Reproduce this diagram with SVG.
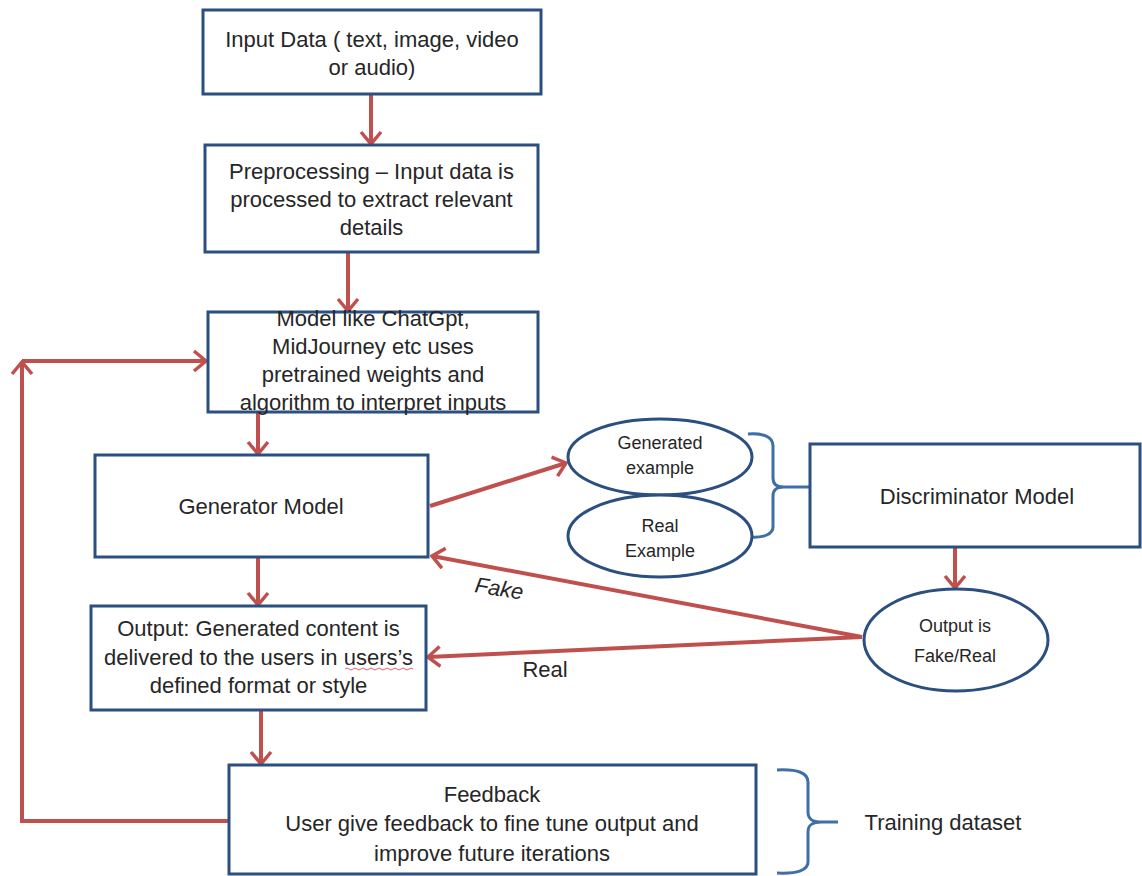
<svg xmlns="http://www.w3.org/2000/svg" width="1142" height="876" viewBox="0 0 1142 876">
<style>
.box{fill:#fff;stroke:#2b4f7e;stroke-width:3}
.ell{fill:#fff;stroke:#2b4f7e;stroke-width:3}
.t{font-family:"Liberation Sans",Arial,sans-serif;font-size:22px;fill:#262626;text-anchor:middle}
.s{font-size:18px}
.c{fill:none;stroke:#c0504d;stroke-width:4}
.br{fill:none;stroke:#3f6fa6;stroke-width:3}
</style>
<defs>
<marker id="ah" viewBox="0 0 16 24" refX="14" refY="12" markerWidth="16" markerHeight="24" markerUnits="userSpaceOnUse" orient="auto">
<path d="M2,2 L14,12 L2,22" fill="none" stroke="#c0504d" stroke-width="3.5"/>
</marker>
</defs>
<rect width="1142" height="876" fill="#fff"/>
<g id="connectors">
<line class="c" x1="371" y1="94" x2="371" y2="144" marker-end="url(#ah)"/>
<line class="c" x1="348" y1="252" x2="348" y2="311" marker-end="url(#ah)"/>
<line class="c" x1="258" y1="412" x2="258" y2="454" marker-end="url(#ah)"/>
<line class="c" x1="258" y1="557" x2="258" y2="605" marker-end="url(#ah)"/>
<line class="c" x1="261" y1="710" x2="261" y2="764" marker-end="url(#ah)"/>
<line class="c" x1="955" y1="547" x2="955" y2="588" marker-end="url(#ah)"/>
<line class="c" x1="430" y1="506" x2="566" y2="463" marker-end="url(#ah)"/>
<line class="c" x1="862" y1="637" x2="432" y2="556" marker-end="url(#ah)"/>
<line class="c" x1="862" y1="637" x2="428" y2="657" marker-end="url(#ah)"/>
<polyline class="c" points="229,821 22,821 22,362" marker-end="url(#ah)"/>
<line class="c" x1="22" y1="361" x2="206" y2="361" marker-end="url(#ah)"/>
<path class="br" d="M748,434 C762,433 773,436 773,446 L773,478 C773,484 776,487 784,487 C776,487 773,490 773,496 L773,527 C773,534 764,538 750,537 M784,487 L810,487"/>
<path class="br" d="M777,770 C798,769 808,773 808,782 L808,812 C808,819 812,822 822,822 L838,822 M822,822 C812,822 808,825 808,832 L808,862 C808,870 798,874 777,873"/>
<text class="t" x="499" y="596" font-size="19" font-style="italic" transform="rotate(9 499 590)">Fake</text>
<text class="t" x="545" y="677" font-size="19">Real</text>
</g>
<g id="input">
<rect class="box" x="203" y="10" width="338" height="84"/>
<text class="t" x="372" y="47">Input Data ( text, image, video</text>
<text class="t" x="372" y="75">or audio)</text>
</g>
<g id="preprocessing">
<rect class="box" x="205" y="145" width="333" height="107"/>
<text class="t" x="371.5" y="179">Preprocessing – Input data is</text>
<text class="t" x="371.5" y="207">processed to extract relevant</text>
<text class="t" x="371.5" y="235">details</text>
</g>
<g id="model">
<rect class="box" x="208" y="312" width="330" height="100"/>
<text class="t" x="373" y="326">Model like ChatGpt,</text>
<text class="t" x="373" y="354">MidJourney etc uses</text>
<text class="t" x="373" y="382">pretrained weights and</text>
<text class="t" x="373" y="410">algorithm to interpret inputs</text>
</g>
<g id="generator">
<rect class="box" x="95" y="455" width="333" height="102"/>
<text class="t" x="261" y="514">Generator Model</text>
</g>
<g id="generated-example">
<ellipse class="ell" cx="660" cy="457" rx="92" ry="38"/>
<text class="t s" x="660" y="449">Generated</text>
<text class="t s" x="660" y="474">example</text>
</g>
<g id="real-example">
<ellipse class="ell" cx="660" cy="536" rx="92" ry="41"/>
<text class="t s" x="660" y="532">Real</text>
<text class="t s" x="660" y="557">Example</text>
</g>
<g id="discriminator">
<rect class="box" x="810" y="444" width="330" height="103"/>
<text class="t" x="977" y="504" font-size="21">Discriminator Model</text>
</g>
<g id="output-fake-real">
<ellipse class="ell" cx="956" cy="640" rx="92" ry="51"/>
<text class="t s" x="955" y="632">Output  is</text>
<text class="t s" x="955" y="662">Fake/Real</text>
</g>
<g id="output">
<rect class="box" x="91" y="606" width="335" height="104"/>
<text class="t" x="258.5" y="636">Output: Generated content is</text>
<text class="t" x="258.5" y="665">delivered to the users in users’s</text>
<text class="t" x="258.5" y="693">defined format or style</text>
<path d="M345,669 q2,-2 4,0 t4,0 t4,0 t4,0 t4,0 t4,0 t4,0 t4,0 t4,0 t4,0 t4,0 t4,0 t4,0 t4,0 t4,0 t4,0 t4,0" fill="none" stroke="#e06666" stroke-width="1"/>
</g>
<g id="feedback">
<rect class="box" x="229" y="765" width="527" height="109"/>
<text class="t" x="492" y="802">Feedback</text>
<text class="t" x="492" y="831">User give feedback to fine tune output and</text>
<text class="t" x="492" y="861">improve future iterations</text>
</g>
<g id="training-dataset">
<text class="t" x="943" y="830" style="text-anchor:middle">Training dataset</text>
</g>
</svg>
